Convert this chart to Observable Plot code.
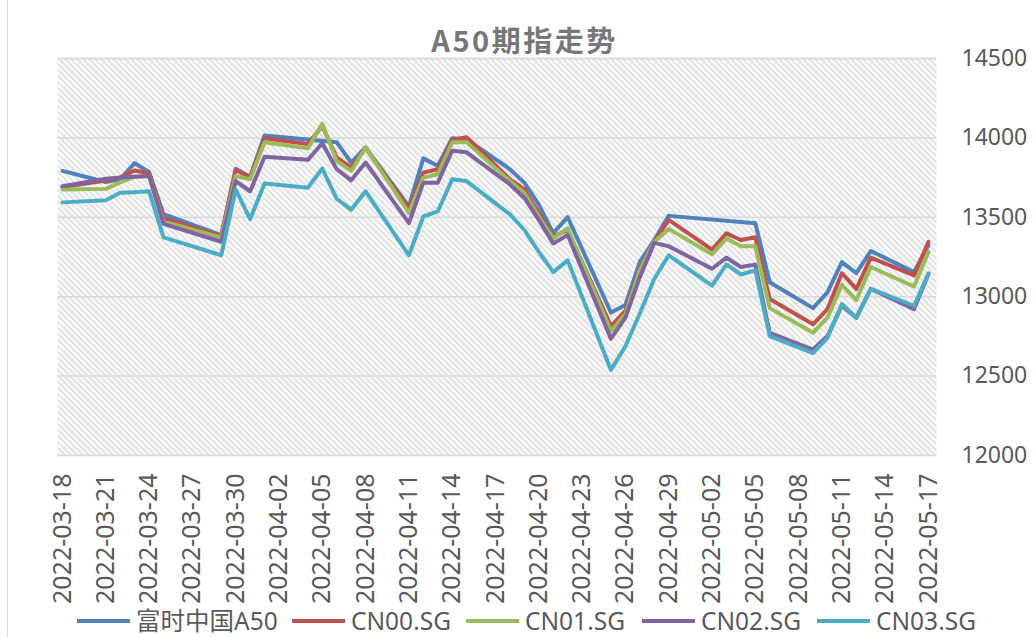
<!DOCTYPE html>
<html>
<head>
<meta charset="utf-8">
<script src="https://cdn.jsdelivr.net/npm/d3@7"></script>
<script src="https://cdn.jsdelivr.net/npm/@observablehq/plot@0.6"></script>
<style>
  html, body { margin: 0; padding: 0; background: #fff; }
  #wrap { position: relative; width: 1035px; height: 637px; overflow: hidden; font-family: "Noto Sans", "Noto Sans CJK SC", sans-serif; }
  #wrap svg { position: absolute; left: 0; top: 0; }
  #border { position: absolute; left: 7px; top: 0; height: 637px; border-left: 1.5px solid #d9d9d9; }
  #title { position: absolute; left: 0; width: 1049px; top: 25px; line-height: 29px; text-align: center;
           font-family: "Noto Sans CJK SC", sans-serif; font-weight: bold; font-size: 29px; letter-spacing: 2.5px; color: #777; }
  #legend { position: absolute; left: 0; top: 609px; height: 24px; width: 1035px; }
  .item { position: absolute; top: 0; height: 24px; display: flex; align-items: center; }
  .swatch { width: 53px; height: 4px; margin-right: 6px; }
  .lab { font-family: "Noto Sans", "Noto Sans CJK SC", sans-serif; font-size: 24.5px; line-height: 24px; color: #595959; white-space: nowrap; }
</style>
</head>
<body>
<div id="wrap">
  <div id="border"></div>
  <div id="title">A50期指走势</div>
  <div id="legend"></div>
</div>
<script>
// ---- data ----
const seriesNames = ["富时中国A50", "CN00.SG", "CN01.SG", "CN02.SG", "CN03.SG"];
const seriesColors = ["#4F81BD", "#C0504D", "#9BBB59", "#8064A2", "#4BACC6"];

const futDates = ["2022-03-18","2022-03-21","2022-03-22","2022-03-23","2022-03-24","2022-03-25","2022-03-29","2022-03-30","2022-03-31","2022-04-01",
  "2022-04-04","2022-04-05","2022-04-06","2022-04-07","2022-04-08",
  "2022-04-11","2022-04-12","2022-04-13","2022-04-14","2022-04-15",
  "2022-04-18","2022-04-19","2022-04-20","2022-04-21","2022-04-22",
  "2022-04-25","2022-04-26","2022-04-27","2022-04-28","2022-04-29",
  "2022-05-02","2022-05-03","2022-05-04","2022-05-05","2022-05-06",
  "2022-05-09","2022-05-10","2022-05-11","2022-05-12","2022-05-13",
  "2022-05-16","2022-05-17"];

const a50Dates = ["2022-03-18","2022-03-21","2022-03-22","2022-03-23","2022-03-24","2022-03-25","2022-03-29","2022-03-30","2022-03-31","2022-04-01",
  "2022-04-06","2022-04-07","2022-04-08",
  "2022-04-11","2022-04-12","2022-04-13","2022-04-14","2022-04-15",
  "2022-04-18","2022-04-19","2022-04-20","2022-04-21","2022-04-22",
  "2022-04-25","2022-04-26","2022-04-27","2022-04-28","2022-04-29",
  "2022-05-05","2022-05-06",
  "2022-05-09","2022-05-10","2022-05-11","2022-05-12","2022-05-13",
  "2022-05-16","2022-05-17"];

const a50 = [13792,13722,13740,13841,13785,13520,13388,13805,13755,14015,
  13972,13845,13940,
  13569,13871,13824,13998,13990,
  13803,13718,13580,13400,13501,
  12900,12948,13219,13357,13509,
  13463,13091,
  12928,13027,13218,13148,13288,
  13155,13325];

const cn00 = [13690,13732,13750,13795,13777,13495,13382,13798,13750,13998,
  13962,14075,13877,13813,13934,
  13558,13781,13803,13989,14004,
  13739,13675,13527,13378,13420,
  12815,12911,13176,13346,13484,
  13297,13399,13357,13374,12985,
  12826,12922,13148,13049,13246,
  13134,13346];

const cn01 = [13675,13679,13720,13756,13760,13473,13374,13760,13739,13972,
  13934,14089,13855,13792,13940,
  13527,13750,13771,13972,13972,
  13728,13654,13505,13367,13431,
  12783,12890,13166,13346,13427,
  13267,13367,13318,13318,12928,
  12773,12868,13074,12979,13187,
  13064,13282];

const cn02 = [13696,13743,13750,13756,13760,13459,13346,13728,13664,13881,
  13862,13966,13803,13733,13845,
  13463,13718,13718,13919,13909,
  13707,13622,13484,13335,13388,
  12736,12868,13123,13339,13318,
  13176,13246,13187,13202,12772,
  12667,12752,12943,12868,13049,
  12922,13145];

const cn03 = [13594,13607,13654,13658,13664,13374,13261,13675,13488,13713,
  13686,13807,13616,13548,13664,
  13261,13505,13537,13739,13728,
  13518,13420,13282,13155,13229,
  12539,12688,12894,13113,13261,
  13070,13204,13140,13166,12752,
  12645,12741,12954,12868,13049,
  12943,13145];

const xTickLabels = ["2022-03-18","2022-03-21","2022-03-24","2022-03-27","2022-03-30","2022-04-02","2022-04-05",
  "2022-04-08","2022-04-11","2022-04-14","2022-04-17","2022-04-20","2022-04-23","2022-04-26","2022-04-29",
  "2022-05-02","2022-05-05","2022-05-08","2022-05-11","2022-05-14","2022-05-17"];
const yTicks = [12000, 12500, 13000, 13500, 14000, 14500];

// legend layout (left edge of each legend item, px)
const legendLeft = [77, 292, 466, 642, 817];

// ---- build table ----
const parse = d3.utcParse("%Y-%m-%d");
const seriesData = [
  [a50Dates, a50], [futDates, cn00], [futDates, cn01], [futDates, cn02], [futDates, cn03]
];
const rows = [];
seriesData.forEach(([ds, vs], i) => {
  ds.forEach((d, j) => rows.push({ series: seriesNames[i], date: parse(d), value: vs[j] }));
});
const xTicks = xTickLabels.map(parse);

const plot = Plot.plot({
  width: 1035,
  height: 637,
  marginTop: 58,
  marginBottom: 182,
  marginLeft: 57,
  marginRight: 99,
  style: { fontFamily: '"Noto Sans", sans-serif', fontSize: "22px", color: "#595959", background: "transparent" },
  x: { type: "utc", domain: [xTicks[0], xTicks[xTicks.length - 1]], insetLeft: 5, insetRight: 8 },
  y: { domain: [12000, 14500] },
  color: { domain: seriesNames, range: seriesColors },
  marks: [
    Plot.frame({ fill: "url(#hatch)", stroke: "none" }),
    Plot.gridY(yTicks, { stroke: "#d9d9d9", strokeOpacity: 1, strokeWidth: 1.5 }),
    Plot.axisX(xTicks, { tickRotate: -90, tickSize: 0, tickPadding: 18, tickFormat: d3.utcFormat("%Y-%m-%d"), label: null, fontSize: 25, fill: "#595959" }),
    Plot.axisY(yTicks, { anchor: "right", tickSize: 0, tickPadding: 25, label: null, fontSize: 23, fill: "#595959", tickFormat: d => String(d) }),
    Plot.lineY(rows, { x: "date", y: "value", z: "series", stroke: "series", strokeWidth: 4, strokeLinejoin: "round" })
  ]
});

// hatch pattern
const ns = "http://www.w3.org/2000/svg";
const defs = document.createElementNS(ns, "defs");
const pat = document.createElementNS(ns, "pattern");
pat.setAttribute("id", "hatch");
pat.setAttribute("patternUnits", "userSpaceOnUse");
pat.setAttribute("width", "6");
pat.setAttribute("height", "6");
const bg = document.createElementNS(ns, "rect");
bg.setAttribute("width", "6"); bg.setAttribute("height", "6"); bg.setAttribute("fill", "#ffffff");
const p = document.createElementNS(ns, "path");
p.setAttribute("d", "M-1,5 L1,7 M0,0 L6,6 M5,-1 L7,1");
p.setAttribute("stroke", "#dfdfdf");
p.setAttribute("stroke-width", "2");
pat.appendChild(bg); pat.appendChild(p);
defs.appendChild(pat);
plot.insertBefore(defs, plot.firstChild);

const wrap = document.getElementById("wrap");
wrap.insertBefore(plot, wrap.firstChild);

// legend
const legend = document.getElementById("legend");
seriesNames.forEach((n, i) => {
  const it = document.createElement("div"); it.className = "item"; it.style.left = legendLeft[i] + "px";
  const sw = document.createElement("div"); sw.className = "swatch"; sw.style.background = seriesColors[i];
  const lb = document.createElement("span"); lb.className = "lab"; lb.textContent = n;
  it.appendChild(sw); it.appendChild(lb); legend.appendChild(it);
});
</script>
</body>
</html>
